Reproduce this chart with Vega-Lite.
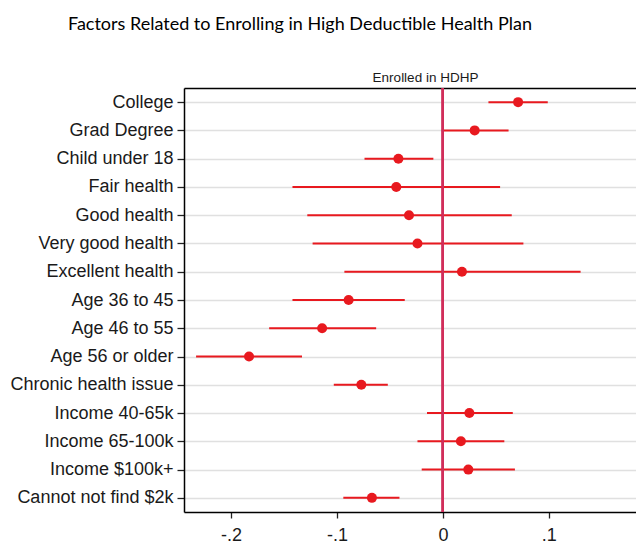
{
  "$schema": "https://vega.github.io/schema/vega-lite/v6.json",
  "autosize": "none",
  "padding": {"left": 184, "top": 88, "right": 0, "bottom": 32},
  "width": 452,
  "height": 424,
  "background": "white",
  "title": {
    "text": "Factors Related to Enrolling in High Deductible Health Plan",
    "anchor": "start",
    "frame": "group",
    "dx": -116,
    "offset": 36,
    "font": "Lato",
    "fontSize": 18,
    "fontWeight": "normal",
    "color": "black"
  },
  "config": {
    "view": {"stroke": null},
    "axis": {
      "labelFont": "Liberation Sans",
      "labelFontSize": 18,
      "labelColor": "#1a1a1a",
      "domainColor": "black",
      "domainWidth": 1.5,
      "tickColor": "#222222",
      "tickWidth": 1.3
    }
  },
  "resolve": {"axis": {"x": "independent"}},
  "data": {
    "values": [
      {"factor": "College", "coef": 0.071, "lo": 0.043, "hi": 0.099},
      {"factor": "Grad Degree", "coef": 0.030, "lo": -0.001, "hi": 0.062},
      {"factor": "Child under 18", "coef": -0.042, "lo": -0.074, "hi": -0.009},
      {"factor": "Fair health", "coef": -0.044, "lo": -0.142, "hi": 0.054},
      {"factor": "Good health", "coef": -0.032, "lo": -0.128, "hi": 0.065},
      {"factor": "Very good health", "coef": -0.024, "lo": -0.123, "hi": 0.076},
      {"factor": "Excellent health", "coef": 0.018, "lo": -0.093, "hi": 0.130},
      {"factor": "Age 36 to 45", "coef": -0.089, "lo": -0.142, "hi": -0.036},
      {"factor": "Age 46 to 55", "coef": -0.114, "lo": -0.164, "hi": -0.063},
      {"factor": "Age 56 or older", "coef": -0.183, "lo": -0.233, "hi": -0.133},
      {"factor": "Chronic health issue", "coef": -0.077, "lo": -0.103, "hi": -0.052},
      {"factor": "Income 40-65k", "coef": 0.025, "lo": -0.015, "hi": 0.066},
      {"factor": "Income 65-100k", "coef": 0.017, "lo": -0.024, "hi": 0.058},
      {"factor": "Income $100k+", "coef": 0.024, "lo": -0.020, "hi": 0.068},
      {"factor": "Cannot not find $2k", "coef": -0.067, "lo": -0.094, "hi": -0.041}
    ]
  },
  "encoding": {
    "y": {
      "field": "factor",
      "type": "nominal",
      "sort": null,
      "scale": {"type": "point", "padding": 0.5},
      "axis": {
        "title": null,
        "grid": true,
        "gridColor": "#e0e0e0",
        "gridWidth": 1.5,
        "tickSize": 7,
        "labelPadding": 4
      }
    }
  },
  "layer": [
    {
      "mark": {"type": "rule", "color": "#e8191f", "strokeWidth": 2},
      "encoding": {
        "x": {
          "field": "lo",
          "type": "quantitative",
          "scale": {"domain": [-0.2444, 0.1823], "nice": false, "zero": false},
          "axis": {
            "orient": "bottom",
            "title": null,
            "values": [-0.2, -0.1, 0, 0.1],
            "labelExpr": "datum.value == 0 ? '0' : (datum.value < 0 ? '-' : '') + '.' + format(abs(datum.value) * 10, '.0f')",
            "grid": false,
            "tickSize": 6,
            "labelPadding": 8
          }
        },
        "x2": {"field": "hi"}
      }
    },
    {
      "mark": {"type": "rule", "color": "#d12e5a", "strokeWidth": 2},
      "encoding": {
        "x": {
          "datum": 0,
          "type": "quantitative",
          "axis": {
            "orient": "top",
            "title": "Enrolled in HDHP",
            "titleFont": "Liberation Sans",
            "titleFontSize": 13.5,
            "titleFontWeight": "normal",
            "titleColor": "#1a1a1a",
            "titleX": 241,
            "titlePadding": 4,
            "labels": false,
            "ticks": false,
            "grid": false
          }
        },
        "y": {"value": 0},
        "y2": {"value": 424}
      }
    },
    {
      "mark": {"type": "point", "filled": true, "opacity": 1, "color": "#e8191f", "size": 100},
      "encoding": {
        "x": {"field": "coef", "type": "quantitative", "axis": null}
      }
    }
  ]
}
